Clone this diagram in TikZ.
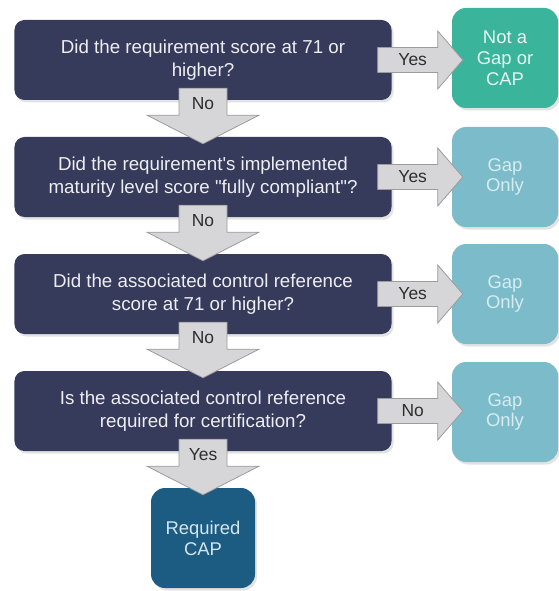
\documentclass[tikz,border=0pt]{standalone}
\usepackage{fontspec}
\setmainfont{Liberation Sans}
% same face without the TeX quote mapping, for straight quotes
\newfontfamily\straightq{Liberation Sans}
\usetikzlibrary{calc,shadows}

\definecolor{navy}{HTML}{363A5B}
\definecolor{navytext}{HTML}{EEEEF2}
\definecolor{tealbox}{HTML}{3BB49C}
\definecolor{tealtext}{HTML}{E8F6F2}
\definecolor{gapbox}{HTML}{7CBCCA}
\definecolor{gaptext}{HTML}{D6ECF1}
\definecolor{capbox}{HTML}{1C5B82}
\definecolor{captext}{HTML}{D5E6F0}
\definecolor{arrowfill}{HTML}{D6D6D8}
\definecolor{arrowline}{HTML}{9C9C9C}
\definecolor{arrowtext}{HTML}{2E2E2E}

\tikzset{
  boxshadow/.style={drop shadow={opacity=0.22, shadow xshift=2bp, shadow yshift=-2.5bp}},
  question/.style={boxshadow, fill=navy, text=navytext, rounded corners=10bp,
    minimum width=377bp, minimum height=80bp, inner sep=0pt, align=center,
    font=\fontsize{18.8}{23}\selectfont},
  outcome/.style={boxshadow, rounded corners=14bp,
    minimum width=106bp, minimum height=100bp, inner sep=0pt, align=center,
    font=\fontsize{18.5}{21}\selectfont},
  blockarrow/.style={fill=arrowfill, draw=arrowline, line width=0.8bp, line join=miter},
  arrowlabel/.style={text=arrowtext, inner sep=0pt, font=\fontsize{17.5}{19}\selectfont}
}

% straight double quote and apostrophe
\newcommand{\dq}{{\straightq\symbol{34}}}
\newcommand{\sq}{{\straightq\symbol{39}}}

\begin{document}
\begin{tikzpicture}[x=1bp, y=-1bp]
\useasboundingbox (0,0) rectangle (559,591);

% decision boxes
\node[question] (q1) at (203,60)  {Did the requirement score at 71 or\\higher?};
\node[question] (q2) at (203,177) {Did the requirement\sq s implemented\\maturity level score \dq fully compliant\dq?};
\node[question] (q3) at (203,294) {Did the associated control reference\\score at 71 or higher?};
\node[question] (q4) at (203,411) {Is the associated control reference\\required for certification?};

% outcome boxes
\node[outcome, fill=tealbox, text=tealtext] (o1) at (505,58)  {Not a\\Gap or\\CAP};
\node[outcome, fill=gapbox, text=gaptext]   (o2) at (505,177) {Gap\\Only};
\node[outcome, fill=gapbox, text=gaptext]   (o3) at (505,294) {Gap\\Only};
\node[outcome, fill=gapbox, text=gaptext]   (o4) at (505,412) {Gap\\Only};
\node[outcome, fill=capbox, text=captext, minimum width=104bp] (cap) at (203,538) {Required\\CAP};

% downward block arrows: tail inside the upper box, tip just inside the lower box
\foreach \a/\b/\t in {q1/q2/No, q2/q3/No, q3/q4/No, q4/cap/Yes}{
  \draw[blockarrow]
    ($(\a.south)+(-24,-12)$) -- ($(\a.south)+(-24,15)$) -- ($(\a.south)+(-56,15)$)
    -- ($(\b.north)+(0,7)$)
    -- ($(\a.south)+(56,15)$) -- ($(\a.south)+(24,15)$) -- ($(\a.south)+(24,-12)$) -- cycle;
  \node[arrowlabel] (l\a) at ($(\a.south)+(0,3)$) {\t};
}

% rightward block arrows: tail inside the question, tip just inside the outcome
\foreach \a/\b/\t in {q1/o1/Yes, q2/o2/Yes, q3/o3/Yes, q4/o4/No}{
  \draw[blockarrow]
    ($(\a.east)+(-14,-12.5)$) -- ($(\a.east)+(46,-12.5)$) -- ($(\a.east)+(46,-29)$)
    -- ($(\b.west |- \a.east)+(11,0)$)
    -- ($(\a.east)+(46,29)$) -- ($(\a.east)+(46,12.5)$) -- ($(\a.east)+(-14,12.5)$) -- cycle;
  \node[arrowlabel] (r\a) at ($(\a.east)+(21,0)$) {\t};
}
\end{tikzpicture}
\end{document}
